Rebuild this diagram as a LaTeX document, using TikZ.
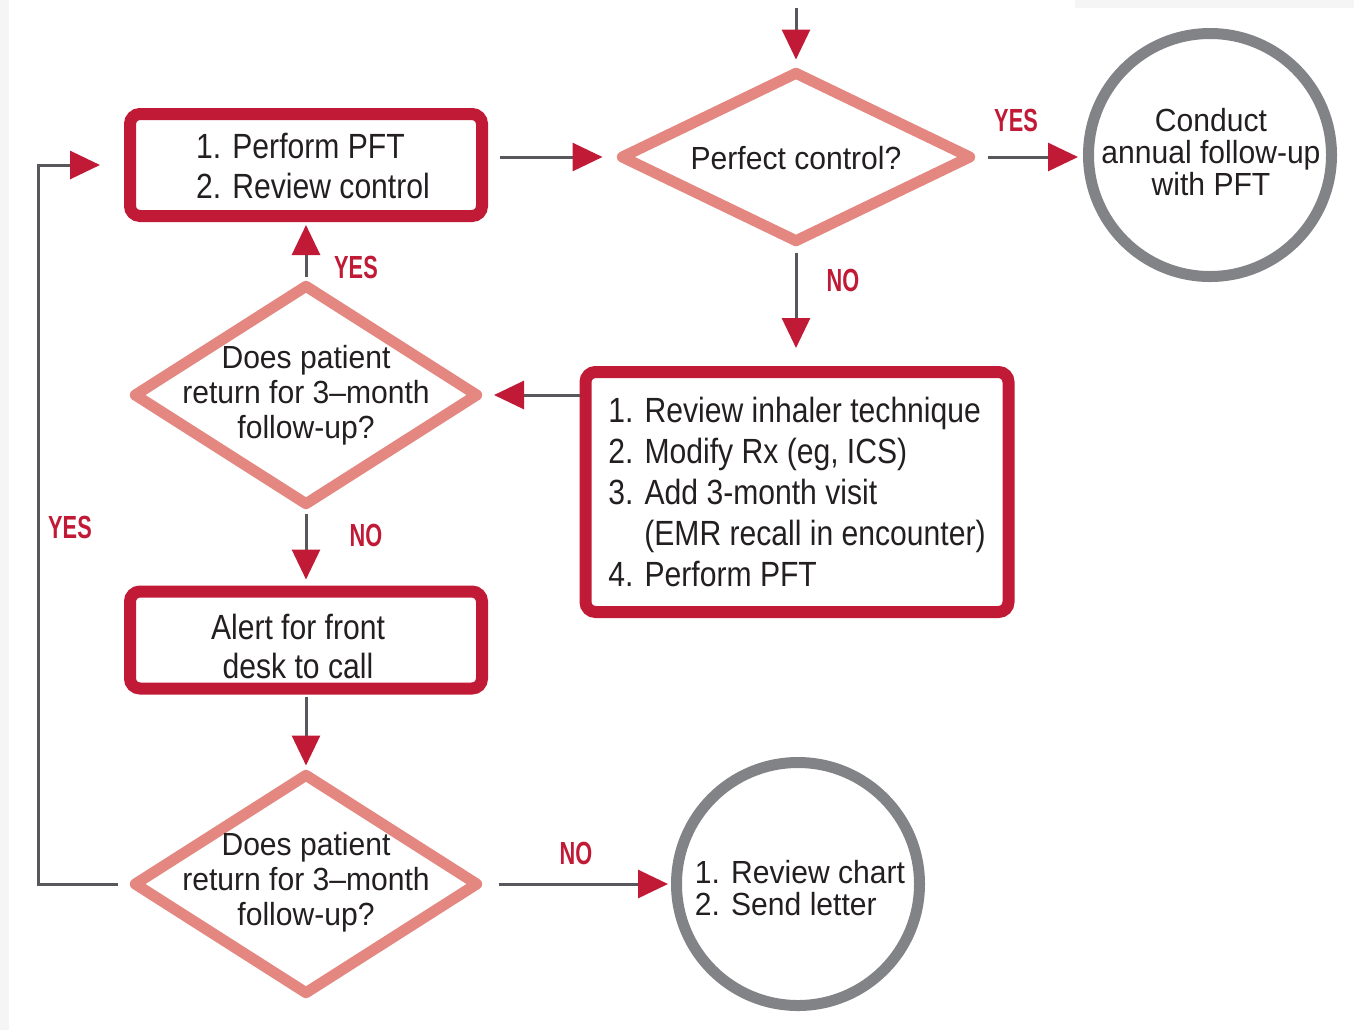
\documentclass[tikz,border=0pt]{standalone}
\usepackage{fontspec}
\setmainfont{Liberation Sans}[FakeStretch=0.86]
\newfontfamily\shapefont{Liberation Sans}[FakeStretch=0.94]
\newfontfamily\lblfont{Liberation Sans}[FakeStretch=0.68]
\usetikzlibrary{shapes.geometric,arrows.meta}
\definecolor{crim}{RGB}{193,26,54}
\definecolor{salm}{RGB}{227,135,128}
\definecolor{cgray}{RGB}{130,131,134}
\definecolor{lgray}{RGB}{88,88,92}
\definecolor{txt}{RGB}{35,31,32}
\begin{document}
\begin{tikzpicture}[x=0.5pt,y=-0.5pt,
  boxnode/.style={draw=crim, line width=6pt, rounded corners=5pt, inner sep=0pt, align=left, text=txt, font=\fontsize{17.5}{20}\selectfont},
  dianode/.style={draw=salm, line width=5.5pt, diamond, line join=round, inner sep=0pt},
  circnode/.style={draw=cgray, line width=5.5pt, circle, inner sep=0pt, minimum size=121.5pt},
  dtext/.style={align=center, text=txt, inner sep=0pt, font=\shapefont\fontsize{16}{17.5}\selectfont},
  ctext/.style={text=txt, inner sep=0pt, font=\shapefont\fontsize{16}{16}\selectfont},
  lbl/.style={text=crim, inner sep=0pt, font=\lblfont\bfseries\fontsize{16}{16}\selectfont},
  conn/.style={draw=lgray, line width=1.5pt, -{Triangle[length=15pt,width=14pt,color=crim]}}]
\useasboundingbox (0,0) rectangle (1354,1030);
\fill[black!4] (0,0) rectangle (9,1030);
\fill[black!4] (1075,0) rectangle (1354,8);

% nodes
\node[boxnode, minimum width=176pt, minimum height=51pt] (b1) at (306,165) {};
\node[boxnode, draw=none, rounded corners=0pt] (b1t) at (313,166) {1. Perform PFT\\2. Review control};
\node[dianode, minimum width=176pt, minimum height=86pt] (d1) at (796,157) {};
\node[dtext] (d1t) at (796,158) {Perfect control?};
\node[circnode] (c1) at (1210,155) {};
\node[ctext, align=center] (c1t) at (1211,152) {Conduct\\annual follow-up\\with PFT};
\node[boxnode, minimum width=211.5pt, minimum height=120pt, font=\fontsize{17.5}{20.5}\selectfont] (b2) at (797,492)
  {1. Review inhaler technique\\2. Modify Rx (eg, ICS)\\3. Add 3-month visit\\\hspace*{18pt}(EMR recall in encounter)\\4. Perform PFT};
\node[dianode, minimum width=173pt, minimum height=111pt] (d2) at (306,395) {};
\node[dtext] (d2t) at (306,395) {Does patient\\return for 3–month\\follow-up?};
\node[boxnode, minimum width=176pt, minimum height=48.5pt] (b3) at (306,640) {};
\node[dtext, font=\fontsize{17.5}{19.5}\selectfont] (b3t) at (298,646) {Alert for front\\desk to call};
\node[dianode, minimum width=173pt, minimum height=111pt] (d3) at (306,884) {};
\node[dtext] (d3t) at (306,882) {Does patient\\return for 3–month\\follow-up?};
\node[circnode] (c2) at (798,884) {};
\node[ctext, align=left] (c2t) at (800,888) {1. Review chart\\2. Send letter};

% labels
\node[lbl] (l1) at (1016,120) {YES};
\node[lbl] (l2) at (843,280) {NO};
\node[lbl] (l3) at (356,267) {YES};
\node[lbl] (l4) at (366,535) {NO};
\node[lbl] (l5) at (70,527) {YES};
\node[lbl] (l6) at (576,853) {NO};

% connectors
\coordinate (top) at (796,8);
\coordinate (lx) at (38,0);
\draw[conn, shorten >=3pt] (top) -- (d1.north);
\draw[conn, shorten <=6pt, shorten >=6pt] (b1.east |- d1.west) -- (d1.west);
\draw[conn, shorten <=5pt, shorten >=2.5pt] (d1.east) -- (c1.west |- d1.east);
\draw[conn, shorten <=2pt, shorten >=9pt] (d1.south) -- (b2.north -| d1.south);
\draw[conn, shorten >=4.75pt] (b2.west |- d2.east) -- (d2.east);
\draw[conn, shorten <=1pt, shorten >=1.5pt] (d2.north) -- (b1.south);
\draw[conn, shorten <=1pt, shorten >=3pt] (d2.south) -- (b3.north);
\draw[conn, shorten <=1pt, shorten >=1pt] (b3.south) -- (d3.north);
\draw[conn, shorten <=5pt, shorten >=12pt] (d3.west) -- (d3.west -| lx) |- (b1.west);
\draw[conn, shorten <=7pt, shorten >=1.5pt] (d3.east) -- (c2.west |- d3.east);
\end{tikzpicture}
\end{document}
